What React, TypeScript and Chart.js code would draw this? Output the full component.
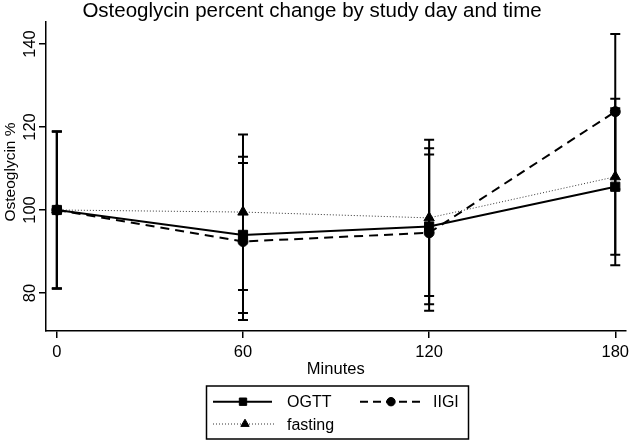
import React, { useEffect, useRef } from "react";
import { Chart, registerables } from "chart.js";
import { drawPoint } from "chart.js/helpers";

Chart.register(...registerables);

// Sampling times (minutes) and axis ticks
const minutes = [0, 60, 120, 180];
const xTicks = [0, 60, 120, 180];
const yTicks = [80, 100, 120, 140];

// Osteoglycin, % of baseline: mean with lower / upper error limits
const ogttMean = [100, 94.0, 96.0, 105.6];
const ogttLow = [81.1, 75.2, 77.3, 86.7];
const ogttHigh = [118.9, 112.8, 114.9, 124.5];

const iigiMean = [100, 92.4, 94.5, 123.7];
const iigiLow = [81.1, 73.5, 75.7, 105.0];
const iigiHigh = [118.9, 111.3, 113.4, 142.4];

const fastingMean = [100, 99.5, 98.1, 108.0];
const fastingLow = [81.1, 80.7, 79.3, 89.2];
const fastingHigh = [118.9, 118.2, 116.9, 126.8];

const TITLE = "Osteoglycin percent change by study day and time";
const X_TITLE = "Minutes";
const Y_TITLE = "Osteoglycin %";

const FONT = '"Liberation Sans", Arial, Helvetica, sans-serif';

const series = [
  {
    label: "OGTT",
    mean: ogttMean,
    low: ogttLow,
    high: ogttHigh,
    pointStyle: "rect",
    radius: 6.5,
    legendRadius: 5.2,
    dash: [] as number[],
    width: 2,
    color: "#000",
  },
  {
    label: "IIGI",
    mean: iigiMean,
    low: iigiLow,
    high: iigiHigh,
    pointStyle: "circle",
    radius: 5,
    legendRadius: 4.2,
    dash: [9, 6],
    width: 2,
    color: "#000",
  },
  {
    label: "fasting",
    mean: fastingMean,
    low: fastingLow,
    high: fastingHigh,
    pointStyle: "triangle",
    radius: 6,
    legendRadius: 4.8,
    dash: [1, 2],
    width: 1,
    color: "#333",
  },
];

// Vertical error bars with caps, drawn beneath the lines and markers
const errorBarsPlugin = {
  id: "errorBars",
  beforeDatasetsDraw(chart: any) {
    const { ctx } = chart;
    const xs = chart.scales.x;
    const ys = chart.scales.y;
    ctx.save();
    ctx.strokeStyle = "#000";
    ctx.lineWidth = 2;
    ctx.setLineDash([]);
    series.forEach((s) => {
      minutes.forEach((m, i) => {
        const px = xs.getPixelForValue(m);
        const top = ys.getPixelForValue(s.high[i]);
        const bot = ys.getPixelForValue(s.low[i]);
        ctx.beginPath();
        ctx.moveTo(px, top);
        ctx.lineTo(px, bot);
        ctx.moveTo(px - 5, top);
        ctx.lineTo(px + 5, top);
        ctx.moveTo(px - 5, bot);
        ctx.lineTo(px + 5, bot);
        ctx.stroke();
      });
    });
    ctx.restore();
  },
};

// Title, tick labels, axis titles and the boxed legend
const textPlugin = {
  id: "chartText",
  afterDraw(chart: any) {
    const { ctx } = chart;
    const xs = chart.scales.x;
    const ys = chart.scales.y;
    const area = chart.chartArea;
    ctx.save();
    ctx.fillStyle = "#000";

    // title
    ctx.font = `20.5px ${FONT}`;
    ctx.textAlign = "center";
    ctx.textBaseline = "alphabetic";
    ctx.fillText(TITLE, 312, 17);

    // x tick labels
    ctx.font = `16.5px ${FONT}`;
    xTicks.forEach((t) => {
      ctx.fillText(String(t), xs.getPixelForValue(t), 357);
    });
    ctx.fillText(X_TITLE, (area.left + area.right) / 2, 373.5);

    // y tick labels (rotated)
    yTicks.forEach((t) => {
      ctx.save();
      ctx.translate(35, ys.getPixelForValue(t));
      ctx.rotate(-Math.PI / 2);
      ctx.textAlign = "center";
      ctx.fillText(String(t), 0, 0);
      ctx.restore();
    });

    // y axis title
    ctx.save();
    ctx.font = `15.5px ${FONT}`;
    ctx.translate(14.5, 172);
    ctx.rotate(-Math.PI / 2);
    ctx.textAlign = "center";
    ctx.fillText(Y_TITLE, 0, 0);
    ctx.restore();

    // legend box
    ctx.strokeStyle = "#000";
    ctx.lineWidth = 1.5;
    ctx.strokeRect(206.5, 386, 262, 53);

    const items = [
      { s: series[0], x1: 213, x2: 272, mx: 243, tx: 287, cy: 401.7 },
      { s: series[1], x1: 360, x2: 421, mx: 391, tx: 433, cy: 401.7 },
      { s: series[2], x1: 213, x2: 276, mx: 245, tx: 287, cy: 424 },
    ];
    ctx.font = `16px ${FONT}`;
    ctx.textAlign = "left";
    items.forEach(({ s, x1, x2, mx, tx, cy }) => {
      ctx.save();
      ctx.strokeStyle = s.color;
      ctx.lineWidth = s.width;
      ctx.setLineDash(s.label === "IIGI" ? [8, 5] : s.dash);
      ctx.beginPath();
      ctx.moveTo(x1, cy);
      ctx.lineTo(x2, cy);
      ctx.stroke();
      ctx.restore();
      ctx.save();
      ctx.fillStyle = "#000";
      ctx.strokeStyle = "#000";
      ctx.lineWidth = 1;
      drawPoint(
        ctx,
        { pointStyle: s.pointStyle, radius: s.legendRadius, rotation: 0, borderWidth: 1 } as any,
        mx,
        cy
      );
      ctx.restore();
      ctx.fillStyle = "#000";
      ctx.fillText(s.label, tx, cy + 5.7);
    });

    ctx.restore();
  },
};

export default function App() {
  const canvasRef = useRef<HTMLCanvasElement | null>(null);

  useEffect(() => {
    const canvas = canvasRef.current;
    if (!canvas) return;

    const chart = new Chart(canvas, {
      type: "line",
      data: {
        datasets: series.map((s) => ({
          label: s.label,
          data: minutes.map((m, i) => ({ x: m, y: s.mean[i] })),
          borderColor: s.color,
          borderWidth: s.width,
          borderDash: s.dash,
          backgroundColor: "#000",
          pointStyle: s.pointStyle as any,
          pointRadius: s.radius,
          pointBorderWidth: 1,
          pointBorderColor: "#000",
          pointBackgroundColor: "#000",
          tension: 0,
          fill: false,
        })),
      },
      options: {
        responsive: false,
        animation: false,
        devicePixelRatio: 1,
        layout: { padding: { left: 0, right: 5, top: 22, bottom: 0 } },
        plugins: {
          legend: { display: false },
          title: { display: false },
          tooltip: { enabled: false },
        },
        scales: {
          x: {
            type: "linear",
            min: -3.5,
            max: 183.3,
            afterBuildTicks: (scale: any) => {
              scale.ticks = xTicks.map((v) => ({ value: v }));
            },
            afterFit: (scale: any) => {
              scale.height = 111;
            },
            ticks: { display: false },
            grid: {
              display: true,
              drawOnChartArea: false,
              drawTicks: true,
              tickLength: 7,
              color: "#000",
              lineWidth: 1.5,
            },
            border: { display: true, color: "#000", width: 1.5 },
          },
          y: {
            type: "linear",
            min: 70.84,
            max: 145.3,
            afterBuildTicks: (scale: any) => {
              scale.ticks = yTicks.map((v) => ({ value: v }));
            },
            afterFit: (scale: any) => {
              scale.width = 46;
            },
            ticks: { display: false },
            grid: {
              display: true,
              drawOnChartArea: false,
              drawTicks: true,
              tickLength: 7,
              color: "#000",
              lineWidth: 1.5,
            },
            border: { display: true, color: "#000", width: 1.5 },
          },
        },
      },
      plugins: [errorBarsPlugin, textPlugin],
    });

    return () => chart.destroy();
  }, []);

  return (
    <div
      style={{
        position: "absolute",
        left: 0,
        top: 0,
        width: 633,
        height: 442,
        background: "#fff",
      }}
    >
      <canvas ref={canvasRef} width={633} height={442} style={{ display: "block" }} />
    </div>
  );
}
